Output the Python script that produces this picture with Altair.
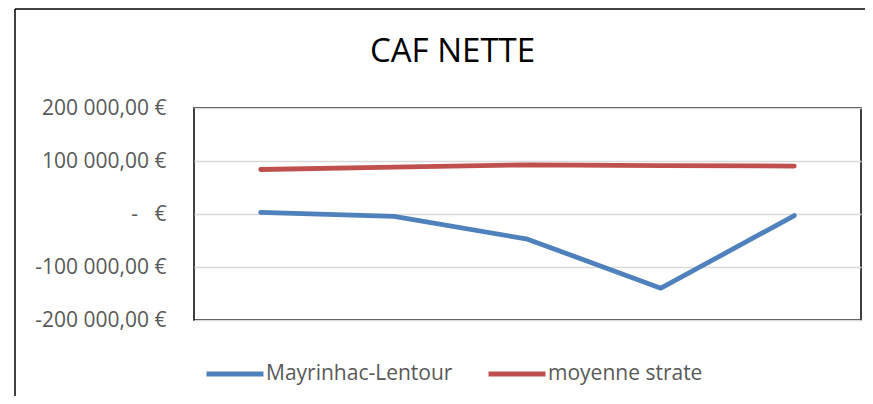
import altair as alt
import pandas as pd

categories = ["1", "2", "3", "4", "5"]
series_names = ["Mayrinhac-Lentour", "moyenne strate"]
mayrinhac = [3000, -4500, -47500, -140000, -3000]
strate = [84000, 88500, 92800, 91300, 90500]
series_colors = ["#4F81BD", "#C0504D"]
tick_values = [-200000, -100000, 0, 100000, 200000]
tick_labels = ["-200\u00a0000,00\u00a0€", "-100\u00a0000,00\u00a0€", "-\u00a0\u00a0\u00a0€",
               "100\u00a0000,00\u00a0€", "200\u00a0000,00\u00a0€"]
title_text = "CAF NETTE"

rows = []
for name, vals in zip(series_names, [mayrinhac, strate]):
    for c, v in zip(categories, vals):
        rows.append({"cat": c, "serie": name, "val": v})
df = pd.DataFrame(rows)

label_expr = "''"
for v, lab in zip(tick_values, tick_labels):
    label_expr = f"datum.value == {v} ? '{lab}' : ({label_expr})"

FONT = "Open Sans"
W, H = 667, 212

lines = alt.Chart(df).mark_line(strokeWidth=4.8, strokeCap="round", strokeJoin="round").encode(
    x=alt.X("cat:O", sort=categories, scale=alt.Scale(type="point", padding=0.5),
            axis=alt.Axis(labels=False, ticks=False, domain=False, title=None, grid=False)),
    y=alt.Y("val:Q", scale=alt.Scale(domain=[-200000, 200000], nice=False, zero=False),
            axis=alt.Axis(values=tick_values, labelExpr=label_expr, title=None, domain=False,
                          ticks=False, tickSize=0, labelPadding=28, grid=True,
                          gridColor="#D9D9D9", gridWidth=1.3, labelFont=FONT, labelFontSize=21,
                          labelColor="#595959", labelBaseline="middle")),
    color=alt.Color("serie:N", sort=series_names,
                    scale=alt.Scale(domain=series_names, range=series_colors),
                    legend=alt.Legend(orient="none", legendX=10, legendY=235, direction="horizontal",
                                      title=None, symbolType="stroke", symbolSize=3249,
                                      symbolStrokeWidth=5, labelOffset=0, columnPadding=25,
                                      labelLimit=400,
                                      labelFont=FONT, labelFontSize=21, labelColor="#595959")),
)

frame_data = alt.Data(values=[{"a": 1}])
frame_left = alt.Chart(frame_data).mark_rule(color="black", strokeWidth=1.5, clip=False).encode(
    x=alt.value(-179), y=alt.value(-99), y2=alt.value(400))
frame_top = alt.Chart(frame_data).mark_rule(color="black", strokeWidth=1.5, clip=False).encode(
    x=alt.value(-179), x2=alt.value(700), y=alt.value(-99))

chart = alt.layer(lines, frame_left, frame_top).properties(
    width=W, height=H,
    background="white",
    title=alt.TitleParams(title_text, font=FONT, fontSize=33, fontWeight="normal", color="black",
                          anchor="middle", frame="group", dx=-75, dy=87, baseline="alphabetic",
                          offset=0),
    autosize=alt.AutoSizeParams(type="none"),
    padding={"left": 186, "top": 100, "right": 4, "bottom": 76},
).configure_view(stroke="black", strokeWidth=1.5)

chart.save("out.html", embed_options={"renderer": "svg", "actions": False})
